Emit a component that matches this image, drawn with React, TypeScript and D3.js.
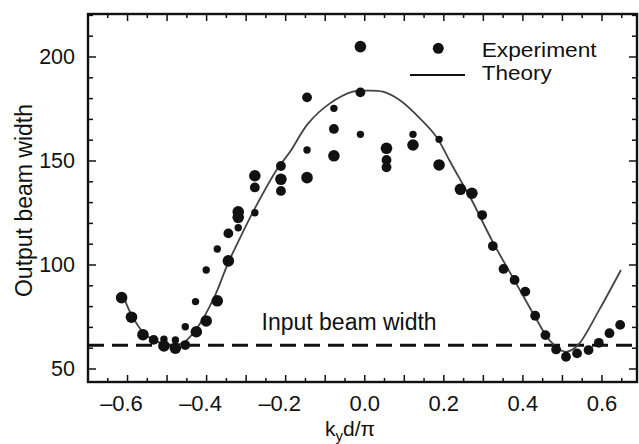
import React from "react";
import * as d3 from "d3";

// Experimental data: x (k_y d / pi), output beam width, dot size class
const expX = [
  -0.615, -0.59, -0.561, -0.534, -0.508, -0.508, -0.479, -0.479, -0.454, -0.454,
  -0.426, -0.428, -0.401, -0.401, -0.373, -0.373, -0.345, -0.345, -0.32, -0.32,
  -0.32, -0.278, -0.278, -0.278, -0.212, -0.212, -0.212, -0.146, -0.146, -0.146,
  -0.078, -0.078, -0.078, -0.011, -0.011, -0.011, 0.055, 0.055, 0.055, 0.122,
  0.122, 0.188, 0.188, 0.242, 0.271, 0.297, 0.324, 0.351, 0.379, 0.406,
  0.431, 0.457, 0.484, 0.509, 0.537, 0.566, 0.592, 0.619, 0.646,
];
const expY = [
  84.3, 74.9, 66.5, 64, 64.3, 61.1, 64, 60, 61.5, 70.3,
  67.9, 82.4, 73.1, 97.6, 82.8, 107.7, 102, 115.2, 117.9, 125.6,
  122.9, 125.1, 137.3, 142.9, 147.6, 141.2, 135.6, 180.6, 155.3, 142,
  175.3, 165.4, 152.5, 205, 183, 162.8, 156.1, 150.5, 147, 162.8,
  157.7, 160.4, 148.1, 136.4, 134.5, 124, 109.1, 98.1, 92.8, 87.2,
  75.6, 66.3, 59.4, 55.9, 57.5, 59.1, 62.6, 67.2, 71.2,
];
// 3 = large, 2 = medium, 1 = small
const expSize = [
  3, 3, 3, 2, 1, 3, 1, 3, 2, 1,
  3, 1, 3, 1, 3, 1, 3, 2, 1, 3,
  3, 1, 2, 3, 2, 3, 2, 2, 1, 3,
  1, 2, 3, 3, 2, 1, 3, 2, 2, 1,
  3, 1, 3, 3, 3, 2, 2, 2, 2, 2,
  2, 2, 2, 2, 2, 2, 2, 2, 2,
];

// Theory curve
const theoryX = [
  -0.607, -0.59, -0.56, -0.53, -0.497, -0.47, -0.455, -0.422, -0.38, -0.346,
  -0.32, -0.278, -0.223, -0.189, -0.143, -0.088, -0.03, 0.0, 0.046, 0.088,
  0.131, 0.181, 0.215, 0.24, 0.271, 0.324, 0.379, 0.431, 0.467, 0.505,
  0.523, 0.543, 0.593, 0.648,
];
const theoryY = [
  83.2, 76, 67.5, 63.5, 61.5, 61.8, 63.1, 70.3, 84.8, 100.8,
  111.2, 127.2, 145.7, 154.4, 168.1, 177.7, 183.3, 183.8, 183.3, 179.3,
  172.1, 161.7, 150, 141.5, 131, 111, 92.5, 75, 63.9, 58.3,
  59.1, 62.3, 78.4, 97.6,
];

const inputBeamWidth = 61.4;

const xTickValues = [-0.6, -0.4, -0.2, 0.0, 0.2, 0.4, 0.6];
const yTickValues = [50, 100, 150, 200];

const W = 639;
const H = 444;
const L = 88, R = 637, T = 14, B = 382;

export default function App() {
  const x = d3.scaleLinear().domain([-0.7, 0.6886]).range([L, R]);
  const y = d3.scaleLinear().domain([43.75, 220.67]).range([B, T]);

  const line = d3
    .line<number>()
    .x((_, i) => x(theoryX[i]))
    .y((_, i) => y(theoryY[i]))
    .curve(d3.curveCatmullRom.alpha(0.5));

  const xMinor = d3.range(-0.65, 0.66, 0.05).map((v) => Math.round(v * 100) / 100);
  const yMinor = d3.range(50, 221, 10);

  const rOf = (s: number) => (s === 3 ? 5.8 : s === 2 ? 4.9 : 3.7);
  const ink = "#111";
  const font = "'Liberation Sans', Arial, Helvetica, sans-serif";

  return (
    <svg
      width={W}
      height={H}
      style={{ position: "absolute", left: 0, top: 0, background: "#fff" }}
      fontFamily={font}
    >
      <rect x={0} y={0} width={W} height={H} fill="#fff" />

      {/* dashed input beam width */}
      <line
        x1={L}
        x2={R}
        y1={y(inputBeamWidth)}
        y2={y(inputBeamWidth)}
        stroke={ink}
        strokeWidth={3}
        strokeDasharray="16 8"
      />

      {/* theory curve */}
      <path d={line(theoryX) || ""} fill="none" stroke="#444" strokeWidth={1.8} />

      {/* experiment dots */}
      {expX.map((vx, i) => (
        <circle key={i} cx={x(vx)} cy={y(expY[i])} r={rOf(expSize[i])} fill={ink} />
      ))}

      {/* ticks */}
      {xMinor.map((v, i) => {
        const major = Math.abs(Math.round(v * 100)) % 10 === 0;
        const len = major ? 7 : 4;
        return (
          <g key={"xt" + i}>
            <line x1={x(v)} x2={x(v)} y1={B} y2={B - len} stroke={ink} strokeWidth={1.5} />
            <line x1={x(v)} x2={x(v)} y1={T} y2={T + len} stroke={ink} strokeWidth={1.5} />
          </g>
        );
      })}
      {yMinor.map((v, i) => {
        const major = v % 50 === 0;
        const len = major ? 8 : 5;
        return (
          <g key={"yt" + i}>
            <line x1={L} x2={L + len} y1={y(v)} y2={y(v)} stroke={ink} strokeWidth={1.5} />
            <line x1={R} x2={R - len} y1={y(v)} y2={y(v)} stroke={ink} strokeWidth={1.5} />
          </g>
        );
      })}

      {/* frame */}
      <rect x={L} y={T} width={R - L} height={B - T} fill="none" stroke={ink} strokeWidth={2.4} />

      {/* x tick labels */}
      {xTickValues.map((v, i) => {
        const txt = Math.abs(v).toFixed(1);
        return (
          <g key={"xl" + i} fontSize={22} fill={ink}>
            <text x={x(v)} y={410.5} textAnchor="middle">
              {txt}
            </text>
            {v < 0 && (
              <text x={x(v) - 15} y={410.5} textAnchor="end">
                {"\u2013"}
              </text>
            )}
          </g>
        );
      })}

      {/* y tick labels */}
      {yTickValues.map((v, i) => (
        <text
          key={"yl" + i}
          x={75}
          y={y(v) + 7.5}
          textAnchor="end"
          fontSize={21.5}
          fill={ink}
        >
          {v}
        </text>
      ))}

      {/* axis titles */}
      <text x={325} y={436} fontSize={21} fill={ink}>
        k
        <tspan fontSize={15} dy={5}>
          y
        </tspan>
        <tspan dy={-5}>d/π</tspan>
      </text>
      <text
        transform="translate(31.5,200.5) rotate(-90)"
        textAnchor="middle"
        fontSize={23}
        fill={ink}
      >
        Output beam width
      </text>

      {/* annotation */}
      <text x={261.5} y={330} fontSize={23} fill={ink}>
        Input beam width
      </text>

      {/* legend */}
      <circle cx={438.3} cy={48.3} r={5.5} fill={ink} />
      <line x1={410} x2={465} y1={75} y2={75} stroke={ink} strokeWidth={1.8} />
      <text x={481.7} y={56.7} fontSize={20} fill={ink} textLength={115} lengthAdjust="spacingAndGlyphs">
        Experiment
      </text>
      <text x={481.7} y={80} fontSize={20} fill={ink} textLength={70} lengthAdjust="spacingAndGlyphs">
        Theory
      </text>
    </svg>
  );
}
